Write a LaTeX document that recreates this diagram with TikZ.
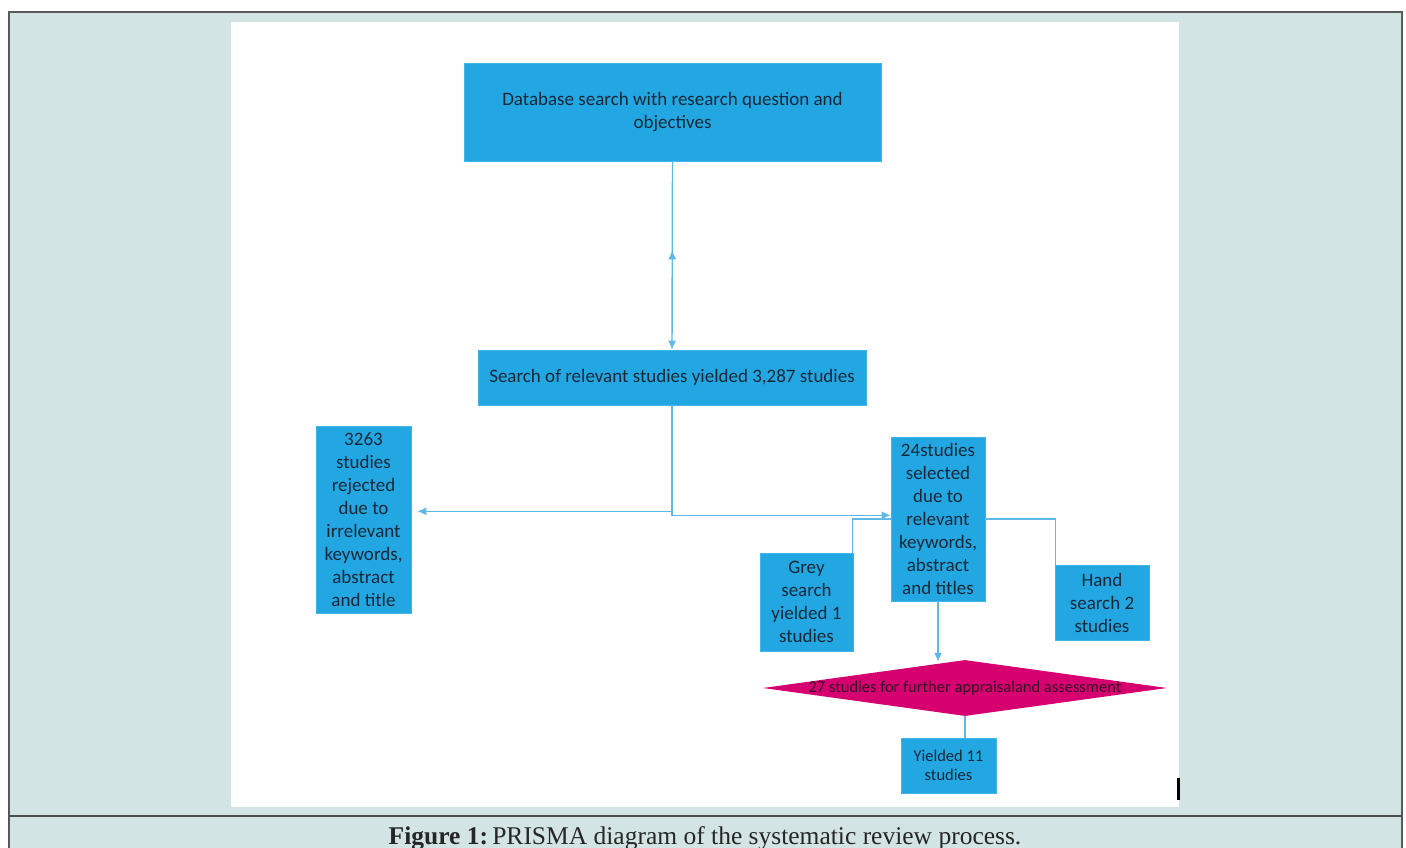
\documentclass[tikz,border=0pt]{standalone}
\usepackage{fontspec}
\setmainfont{Carlito}
\newfontfamily\capfont{Liberation Serif}
\usetikzlibrary{arrows.meta,shapes.geometric,decorations.markings,calc}
\definecolor{framebg}{RGB}{210,229,228}
\definecolor{boxblue}{RGB}{34,167,226}
\definecolor{linkblue}{RGB}{95,185,232}
\definecolor{boxtext}{RGB}{22,40,56}
\definecolor{pinkdia}{RGB}{214,0,112}
\definecolor{diatext}{RGB}{50,15,35}
\tikzset{
  flowbox/.style={draw=boxblue!85!white, line width=0.6pt, fill=boxblue, text=boxtext, align=center, inner sep=0pt,
    font=\fontsize{19}{23}\selectfont},
  link/.style={draw=linkblue, line width=1.4pt},
  tip/.style={-{Latex[length=9pt,width=8pt]}},
}
\begin{document}
\begin{tikzpicture}[x=1pt,y=-1pt]
\useasboundingbox (0,0) rectangle (1406,848);
% frame
\fill[white] (0,0) rectangle (1406,848);
\fill[framebg] (9,12) rectangle (1402,860);
\draw[black!65, line width=1.5pt] (9,860) -- (9,12) -- (1402,12) -- (1402,860);
\draw[black!70, line width=1.5pt] (9,816) -- (1402,816);
\fill[white] (231,22) rectangle (1179,807);
\fill[black] (1177,778) rectangle (1179.5,800);

% nodes
\node[flowbox, minimum width=417, minimum height=98] (top) at (672.5,112) {Database search with research question and\\objectives};
\node[flowbox, minimum width=388, minimum height=55] (mid) at (672,377.5) {Search of relevant studies yielded 3,287 studies};
\node[flowbox, minimum width=95, minimum height=187] (rej) at (363.5,519.5) {3263\\studies\\rejected\\due to\\irrelevant\\keywords,\\abstract\\and title};
\node[flowbox, minimum width=94, minimum height=164] (sel) at (938,519) {24studies\\selected\\due to\\relevant\\keywords,\\abstract\\and titles};
\node[flowbox, minimum width=93, minimum height=98] (grey) at (806.5,602) {Grey\\search\\yielded 1\\studies};
\node[flowbox, minimum width=94, minimum height=75] (hand) at (1102,602.5) {Hand\\search 2\\studies};
\node[flowbox, minimum width=95, minimum height=55, font=\fontsize{16.5}{19.5}\selectfont] (yld) at (948.5,765.5) {Yielded 11\\studies};
\node[diamond, fill=pinkdia, minimum width=404, minimum height=56, inner sep=0pt] (dia) at (965,688) {};
\node[text=diatext, font=\fontsize{16.5}{18}\selectfont, inner sep=0pt] (diatxt) at (dia.center) {27 studies for further appraisaland assessment};

% connectors
\draw[link, tip, postaction={decorate}, decoration={markings, mark=at position 0.52 with {\arrow{Latex[length=9pt,width=8pt,reversed]}}}] (top.south) -- (mid.north);
\coordinate (split) at ($(mid.south)+(0,106)$);
\coordinate (splitb) at ($(mid.south)+(0,110)$);
\draw[link, tip] (mid.south) -- (split) -- ($(rej.east |- split)+(6,0)$);
\draw[link, tip] (split) -- (splitb) -- (sel.west |- splitb);
\coordinate (join) at (sel.west);
\coordinate (gtop) at ($(grey.north east)+(-1,0)$);
\draw[link] (gtop) -- (gtop |- join) -- (join);
\draw[link] (sel.east) -- ($(sel.east -| hand.west)+(1,0)$) -- ($(hand.north west)+(1,0)$);
\draw[link, tip] (sel.south) -- ($(sel.south |- dia.north)+(0,2)$);
\draw[link] (dia.south) -- (dia.south |- yld.north);

% caption
\node[font=\capfont\fontsize{25.5}{28}\selectfont, text=black!85, inner sep=0pt, anchor=base] (cap) at (705,844) {\textbf{Figure 1:}\,PRISMA diagram of the systematic review process.};
\end{tikzpicture}
\end{document}
